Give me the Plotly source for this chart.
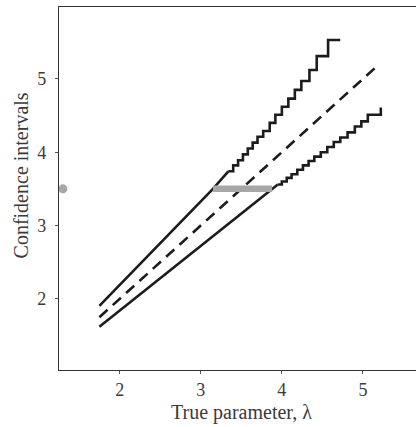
import plotly.graph_objects as go

# Dashed identity line (true parameter)
diag_x = [1.75, 5.2]
diag_y = [1.75, 5.2]

# Upper belt: smooth part then stepped part
upper_smooth_x = [1.75, 3.15, 3.34]
upper_smooth_y = [1.905, 3.50, 3.74]
upper_step_x = [3.34, 3.40, 3.46, 3.52, 3.58, 3.64, 3.70, 3.77,
                3.85, 3.92, 4.00, 4.08, 4.16, 4.24, 4.34, 4.43, 4.57, 4.72]
upper_step_y = [3.74, 3.82, 3.89, 3.97, 4.05, 4.13, 4.21, 4.29,
                4.40, 4.51, 4.62, 4.73, 4.85, 4.97, 5.12, 5.31, 5.53, 5.53]

# Lower belt: smooth part then stepped part
lower_smooth_x = [1.75, 3.88, 3.95]
lower_smooth_y = [1.62, 3.50, 3.56]
lower_step_x = [3.95, 4.00, 4.06, 4.12, 4.19, 4.26, 4.33, 4.40, 4.48, 4.56,
                4.64, 4.72, 4.81, 4.90, 4.98, 5.06, 5.22]
lower_step_y = [3.56, 3.60, 3.65, 3.70, 3.76, 3.82, 3.88, 3.94, 4.00, 4.07,
                4.14, 4.20, 4.27, 4.35, 4.42, 4.51, 4.61]

# Observed value and resulting interval
obs_value = 3.5
obs_x = 1.30
ci_x = [3.15, 3.88]

x_ticks = [2, 3, 4, 5]
y_ticks = [2, 3, 4, 5]
x_title = "True parameter, λ"
y_title = "Confidence intervals"

BLACK = "#1c1c1c"
GREY = "#a7a7a7"
TXT = "#3a3a3a"

fig = go.Figure()
fig.add_trace(go.Scatter(x=diag_x, y=diag_y, mode="lines",
                         line=dict(color=BLACK, width=2.6, dash="11px,7px")))
fig.add_trace(go.Scatter(x=upper_smooth_x, y=upper_smooth_y, mode="lines",
                         line=dict(color=BLACK, width=2.6)))
fig.add_trace(go.Scatter(x=upper_step_x, y=upper_step_y, mode="lines",
                         line=dict(color=BLACK, width=2.6, shape="hv")))
fig.add_trace(go.Scatter(x=lower_smooth_x, y=lower_smooth_y, mode="lines",
                         line=dict(color=BLACK, width=2.6)))
fig.add_trace(go.Scatter(x=lower_step_x, y=lower_step_y, mode="lines",
                         line=dict(color=BLACK, width=2.6, shape="hv")))
fig.add_trace(go.Scatter(x=ci_x, y=[obs_value, obs_value], mode="lines",
                         line=dict(color=GREY, width=6.5)))
fig.add_trace(go.Scatter(x=[obs_x], y=[obs_value], mode="markers",
                         marker=dict(color=GREY, size=9), cliponaxis=False))

font = dict(family="Liberation Serif, DejaVu Serif, serif", color=TXT)
fig.update_layout(
    width=416, height=427,
    margin=dict(l=59, r=0, t=7, b=57),
    plot_bgcolor="white", paper_bgcolor="white",
    showlegend=False,
    font=dict(**font, size=18),
    annotations=[
        dict(text=x_title, xref="paper", yref="paper", x=0.512, y=0,
             xanchor="center", yanchor="middle", yshift=-42, showarrow=False,
             font=dict(**font, size=20)),
        dict(text=y_title, xref="paper", yref="paper", x=0, y=0.536,
             xanchor="center", yanchor="middle", xshift=-38, textangle=-90,
             showarrow=False, font=dict(**font, size=20)),
    ],
)
fig.update_xaxes(range=[1.252, 5.654], tickvals=x_ticks, ticks="outside", ticklen=3,
                 tickwidth=1, tickcolor="#555", showgrid=False, zeroline=False,
                 showline=True, linecolor="#333", linewidth=1.3, mirror=True,
                 automargin=False, tickfont=dict(**font, size=18))
fig.update_yaxes(range=[1.03, 5.98], tickvals=y_ticks, ticks="outside", ticklen=3,
                 tickwidth=1, tickcolor="#555", showgrid=False, zeroline=False,
                 showline=True, linecolor="#333", linewidth=1.3,
                 automargin=False, tickfont=dict(**font, size=18), ticklabelstandoff=5)

fig.write_html("out.html", config={"displayModeBar": False},
               post_script="document.body.style.margin='0';")
